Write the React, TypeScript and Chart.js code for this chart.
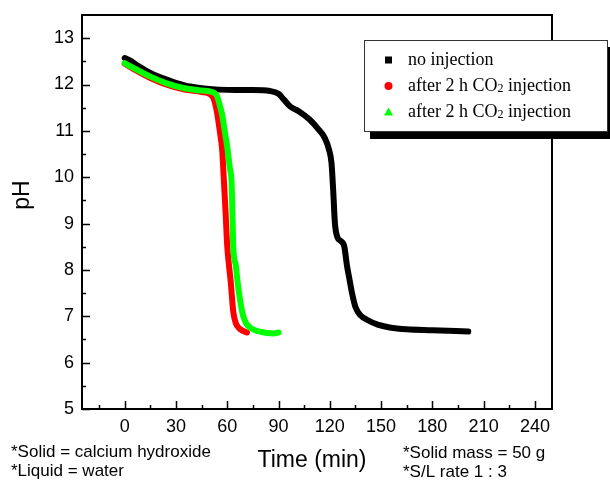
import React, { useEffect, useRef } from "react";
import { Chart, registerables } from "chart.js";

Chart.register(...registerables);

// ---- Data ----
const noInjectionTime = [0, 3, 8, 15, 25, 35, 45, 55, 65, 75, 85, 90, 93, 97, 102, 108, 113, 117, 119.5, 121, 122, 123, 124.5, 126.5, 128.5, 130, 131.5, 133, 135, 138, 142, 148, 155, 165, 180, 201];
const noInjectionPH = [12.57, 12.52, 12.4, 12.25, 12.1, 11.98, 11.92, 11.89, 11.88, 11.88, 11.86, 11.8, 11.68, 11.52, 11.42, 11.25, 11.05, 10.85, 10.6, 10.3, 9.7, 9.0, 8.7, 8.62, 8.5, 8.1, 7.8, 7.5, 7.2, 7.02, 6.92, 6.82, 6.76, 6.72, 6.7, 6.67];

const redTime = [0, 5, 15, 25, 35, 45, 50, 52, 54, 56, 57, 58, 59, 60, 61, 62, 63.5, 65, 67, 69.5, 71.5];
const redPH = [12.45, 12.34, 12.14, 11.99, 11.89, 11.84, 11.79, 11.7, 11.4, 10.9, 10.6, 9.95, 9.25, 8.5, 8.1, 7.75, 7.1, 6.85, 6.74, 6.68, 6.65];

const greenTime = [0, 5, 15, 25, 35, 45, 52, 54, 56, 57, 58.5, 60, 61.5, 62.5, 63, 63.5, 65, 66, 67.5, 69, 71, 74, 78, 83, 87, 90];
const greenPH = [12.46, 12.36, 12.17, 12.02, 11.92, 11.87, 11.83, 11.75, 11.5, 11.35, 11.0, 10.65, 10.2, 9.9, 9.25, 8.5, 8.1, 7.75, 7.35, 7.05, 6.85, 6.74, 6.68, 6.64, 6.63, 6.65];

const seriesLabels = ["no injection", "after 2 h CO2 injection", "after 2 h CO2 injection"];
const seriesColors = ["#000000", "#ff0000", "#00ff00"];

const xTickValues = [0, 30, 60, 90, 120, 150, 180, 210, 240];
const xMinorTickValues = [-15, 15, 45, 75, 105, 135, 165, 195, 225];
const yTickValues = [5, 6, 7, 8, 9, 10, 11, 12, 13];
const yMinorTickValues = [5.5, 6.5, 7.5, 8.5, 9.5, 10.5, 11.5, 12.5];

const xTitle = "Time (min)";
const yTitle = "pH";
const notesLeft = ["*Solid = calcium hydroxide", "*Liquid = water"];
const notesRight = ["*Solid mass = 50 g", "*S/L rate 1 : 3"];

const SANS = "'Liberation Sans', Arial, sans-serif";
const SERIF = "'Liberation Serif', 'Times New Roman', serif";

function toPoints(xs: number[], ys: number[]) {
  return xs.map((x, i) => ({ x, y: ys[i] }));
}

function drawLegendLabel(ctx: CanvasRenderingContext2D, text: string, x: number, y: number) {
  const idx = text.indexOf("CO2");
  ctx.font = `18px ${SERIF}`;
  if (idx < 0) {
    ctx.fillText(text, x, y);
    return;
  }
  const before = text.slice(0, idx + 2);
  const after = text.slice(idx + 3);
  ctx.fillText(before, x, y);
  let cx = x + ctx.measureText(before).width;
  ctx.font = `12px ${SERIF}`;
  ctx.fillText("2", cx, y + 1);
  cx += ctx.measureText("2").width;
  ctx.font = `18px ${SERIF}`;
  ctx.fillText(after, cx, y);
}

const decorPlugin = {
  id: "decor",
  afterDraw(chart: any) {
    const ctx: CanvasRenderingContext2D = chart.ctx;
    const { left, right, top, bottom } = chart.chartArea;
    const xs = chart.scales.x;
    const ys = chart.scales.y;
    ctx.save();
    // frame
    ctx.strokeStyle = "#000";
    ctx.lineWidth = 2;
    ctx.strokeRect(left, top, right - left, bottom - top);
    // ticks (inward)
    ctx.lineWidth = 1.5;
    ctx.beginPath();
    xTickValues.forEach((v) => {
      const px = Math.round(xs.getPixelForValue(v)) + 0.5;
      ctx.moveTo(px, bottom);
      ctx.lineTo(px, bottom - 8);
    });
    xMinorTickValues.forEach((v) => {
      const px = Math.round(xs.getPixelForValue(v)) + 0.5;
      ctx.moveTo(px, bottom);
      ctx.lineTo(px, bottom - 4);
    });
    yTickValues.forEach((v) => {
      const py = Math.round(ys.getPixelForValue(v)) + 0.5;
      ctx.moveTo(left, py);
      ctx.lineTo(left + 8, py);
    });
    yMinorTickValues.forEach((v) => {
      const py = Math.round(ys.getPixelForValue(v)) + 0.5;
      ctx.moveTo(left, py);
      ctx.lineTo(left + 4, py);
    });
    ctx.stroke();

    // axis titles
    ctx.fillStyle = "#000";
    ctx.font = `23px ${SANS}`;
    ctx.textAlign = "center";
    ctx.textBaseline = "alphabetic";
    ctx.fillText(xTitle, 312, 467);
    ctx.save();
    ctx.translate(29, 195);
    ctx.rotate(-Math.PI / 2);
    ctx.fillText(yTitle, 0, 0);
    ctx.restore();

    // notes
    ctx.textAlign = "left";
    ctx.font = `17px ${SANS}`;
    ctx.fillText(notesLeft[0], 11, 457);
    ctx.fillText(notesLeft[1], 11, 476);
    ctx.fillText(notesRight[0], 403, 458);
    ctx.fillText(notesRight[1], 403, 477);

    // legend box with shadow
    const bx = 364, by = 40, bw = 244, bh = 92;
    ctx.fillStyle = "#000";
    ctx.fillRect(bx + 6, by + 7, bw, bh);
    ctx.fillStyle = "#fff";
    ctx.fillRect(bx, by, bw, bh);
    ctx.strokeStyle = "#333";
    ctx.lineWidth = 1;
    ctx.strokeRect(bx + 0.5, by + 0.5, bw - 1, bh - 1);

    const rowY = [60, 86, 112];
    const mx = 388.5;
    // square
    ctx.fillStyle = seriesColors[0];
    ctx.fillRect(mx - 3.5, rowY[0] - 3.5, 7, 7);
    // circle
    ctx.fillStyle = seriesColors[1];
    ctx.beginPath();
    ctx.arc(mx, rowY[1], 4, 0, Math.PI * 2);
    ctx.fill();
    // triangle
    ctx.fillStyle = seriesColors[2];
    ctx.beginPath();
    ctx.moveTo(mx, rowY[2] - 4.5);
    ctx.lineTo(mx + 4.5, rowY[2] + 3.5);
    ctx.lineTo(mx - 4.5, rowY[2] + 3.5);
    ctx.closePath();
    ctx.fill();

    ctx.fillStyle = "#000";
    ctx.textAlign = "left";
    seriesLabels.forEach((lab, i) => {
      drawLegendLabel(ctx, lab, 408, rowY[i] + 5);
    });
    ctx.restore();
  },
};

export default function App() {
  const canvasRef = useRef<HTMLCanvasElement | null>(null);

  useEffect(() => {
    if (!canvasRef.current) return;
    const common = {
      pointRadius: 0,
      borderWidth: 6,
      fill: false,
      cubicInterpolationMode: "monotone" as const,
      borderJoinStyle: "round" as const,
      borderCapStyle: "round" as const,
    };
    const chart = new Chart(canvasRef.current, {
      type: "line",
      data: {
        datasets: [
          { ...common, label: seriesLabels[0], data: toPoints(noInjectionTime, noInjectionPH), borderColor: seriesColors[0], order: 2 },
          { ...common, label: seriesLabels[1], data: toPoints(redTime, redPH), borderColor: seriesColors[1], order: 1 },
          { ...common, label: seriesLabels[2], data: toPoints(greenTime, greenPH), borderColor: seriesColors[2], order: 0 },
        ],
      },
      options: {
        animation: false,
        responsive: false,
        devicePixelRatio: 1,
        layout: { padding: { top: 15, right: 58, left: 0, bottom: 0 } },
        plugins: { legend: { display: false }, tooltip: { enabled: false } },
        scales: {
          x: {
            type: "linear",
            min: -25,
            max: 250,
            grid: { display: false, drawTicks: false },
            border: { display: false },
            ticks: { font: { family: SANS, size: 18 }, color: "#000", padding: 7, maxRotation: 0 },
            afterBuildTicks: (scale: any) => {
              scale.ticks = xTickValues.map((v) => ({ value: v }));
            },
            afterFit: (scale: any) => {
              scale.height = 76;
              scale.paddingLeft = 0;
              scale.paddingRight = 0;
              scale.paddingTop = 0;
              scale.paddingBottom = 0;
            },
          },
          y: {
            type: "linear",
            min: 5,
            max: 13.5,
            grid: { display: false, drawTicks: false },
            border: { display: false },
            ticks: { font: { family: SANS, size: 18 }, color: "#000", padding: 8 },
            afterBuildTicks: (scale: any) => {
              scale.ticks = yTickValues.map((v) => ({ value: v }));
            },
            afterFit: (scale: any) => {
              scale.width = 82;
              scale.paddingLeft = 0;
              scale.paddingRight = 0;
              scale.paddingTop = 0;
              scale.paddingBottom = 0;
            },
          },
        },
      },
      plugins: [decorPlugin],
    });
    return () => chart.destroy();
  }, []);

  return (
    <div style={{ position: "absolute", left: 0, top: 0, width: 610, height: 485, background: "#fff" }}>
      <canvas ref={canvasRef} width={610} height={485} style={{ width: 610, height: 485 }} />
    </div>
  );
}
